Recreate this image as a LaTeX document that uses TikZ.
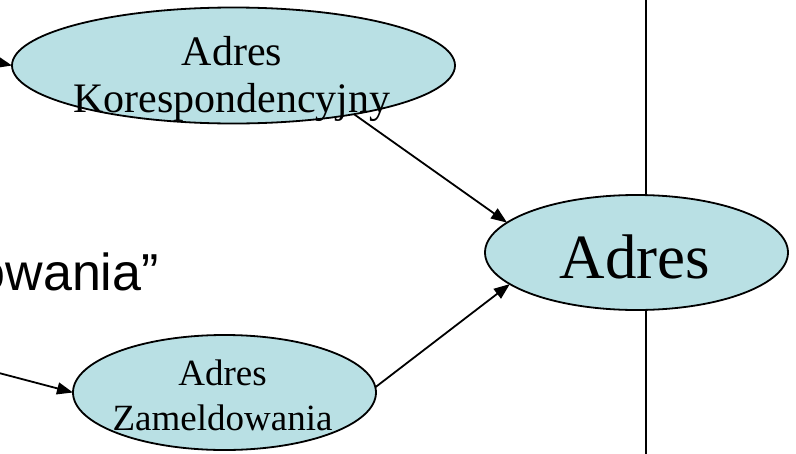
\documentclass[tikz,border=0pt]{standalone}
\usepackage{fontspec}
\setmainfont{Liberation Serif}
\newfontfamily\arialfont{Liberation Sans}
\usetikzlibrary{shapes.geometric,arrows.meta}
\definecolor{ovalfill}{RGB}{185,224,228}
\tikzset{
  oval/.style={ellipse, draw=black, line width=1.8pt, fill=ovalfill, inner sep=0pt, outer sep=0pt},
  conn/.style={line width=1.8pt, -{Triangle[length=16pt,width=12pt]}},
  divider/.style={line width=1.8pt},
  otext/.style={align=center, inner sep=0pt}
}
\begin{document}
\begin{tikzpicture}[x=1pt,y=-1pt]
\useasboundingbox (0,0) rectangle (796,453);
% divider line
\coordinate (vt) at (645.7,-2);
\coordinate (vb) at (645.7,455);
\draw[divider] (vt) -- (vb);
% ellipses
\node[oval, minimum width=443pt, minimum height=116pt] (kor) at (233.5,65.5) {};
\node[oval, minimum width=303pt, minimum height=115pt] (adr) at (636.5,252.5) {};
\node[oval, minimum width=303pt, minimum height=115pt] (zam) at (224.5,392.5) {};
% texts
\node[otext, font={\fontsize{42}{47}\selectfont}] (kortxt) at (232,78.5) {Adres\\Korespondencyjny};
\node[otext, font={\fontsize{63}{70}\selectfont}, anchor=base] (adrtxt) at (635,278) {Adres};
\node[otext, font={\fontsize{37}{45}\selectfont}] (zamtxt) at (222.5,395) {Adres\\Zameldowania};
\node[inner sep=0pt, anchor=base east, font={\arialfont\fontsize{52}{60}\selectfont}] (owtxt) at (159,290) {owania”};
% free ends
\coordinate (inA) at (-30,56);
\coordinate (inB) at (-20,368);
% connectors
\draw[conn] (inA) -- (kor.west);
\draw[conn] (inB) -- (zam.west);
\draw[conn] (kor.-22) -- (adr.167);
\draw[conn] (zam.2) -- (adr.194);
\end{tikzpicture}
\end{document}
